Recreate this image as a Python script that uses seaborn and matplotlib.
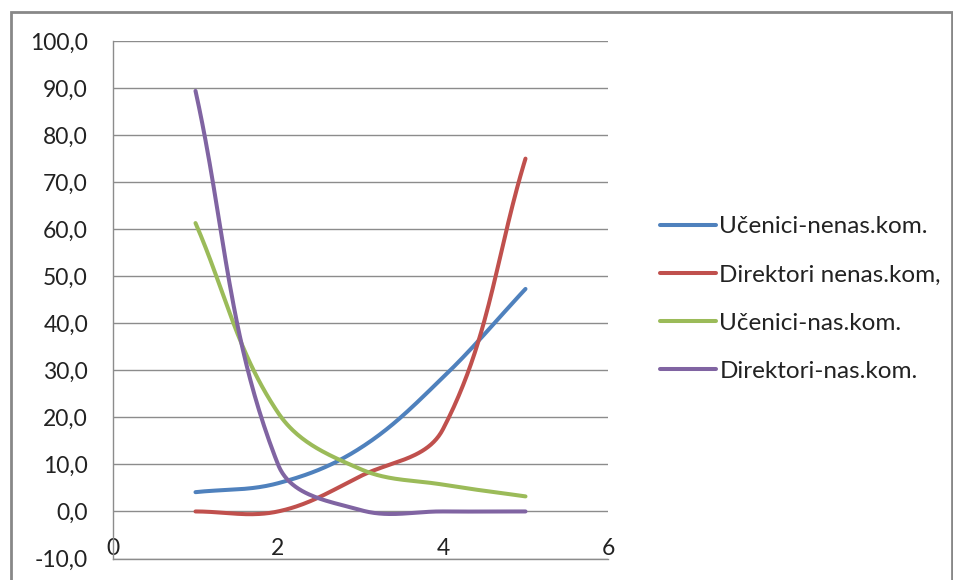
import numpy as np
import pandas as pd
import matplotlib
matplotlib.use("Agg")
import matplotlib.pyplot as plt
import seaborn as sns
from matplotlib.patches import Rectangle
from matplotlib.lines import Line2D

x_vals = [1, 2, 3, 4, 5]
ucenici_nenas = [4.1, 6.0, 13.5, 28.5, 47.3]
direktori_nenas = [0.0, 0.0, 7.5, 17.5, 75.0]
ucenici_nas = [61.3, 21.0, 9.0, 5.7, 3.2]
direktori_nas = [89.4, 10.0, 0.3, 0.0, 0.0]
series_names = ["Učenici-nenas.kom.", "Direktori nenas.kom,", "Učenici-nas.kom.", "Direktori-nas.kom."]
colors = ["#4F81BD", "#C0504D", "#9BBB59", "#8064A2"]
y_ticks = [-10, 0, 10, 20, 30, 40, 50, 60, 70, 80, 90, 100]
x_ticks = [0, 2, 4, 6]

XLIM = (0, 6)
YLIM = (-10, 100)
AX_W_PX = 608 - 113
AX_H_PX = 558.5 - 41


def smooth(xs, ys, n=50, k=0.36):
    # Excel-like smoothing: Bezier segments with tangents scaled by screen-space segment lengths
    sx = AX_W_PX / (XLIM[1] - XLIM[0])
    sy = AX_H_PX / (YLIM[1] - YLIM[0])
    P = np.column_stack([np.asarray(xs, float) * sx, np.asarray(ys, float) * sy])
    m = len(P)
    dirs = []
    for i in range(m):
        a = P[max(i - 1, 0)]
        b = P[min(i + 1, m - 1)]
        d = b - a
        dirs.append(d / np.linalg.norm(d))
    t = np.linspace(0, 1, n)
    out = []
    for i in range(m - 1):
        p0, p3 = P[i], P[i + 1]
        L = np.linalg.norm(p3 - p0)
        p1 = p0 + dirs[i] * L * k
        p2 = p3 - dirs[i + 1] * L * k
        b = ((1 - t) ** 3)[:, None] * p0 + (3 * (1 - t) ** 2 * t)[:, None] * p1 \
            + (3 * (1 - t) * t ** 2)[:, None] * p2 + (t ** 3)[:, None] * p3
        if i > 0:
            b = b[1:]
        out.append(b)
    out = np.vstack(out)
    return out[:, 0] / sx, out[:, 1] / sy


sns.set_theme(style="white")
plt.rcParams["font.family"] = ["Lato", "DejaVu Sans"]

fig = plt.figure(figsize=(9.54, 5.8), dpi=100)
ax = fig.add_axes([113 / 954, 1 - 558.5 / 580, AX_W_PX / 954, AX_H_PX / 580])

rows = []
for name, ys in zip(series_names, [ucenici_nenas, direktori_nenas, ucenici_nas, direktori_nas]):
    sx, sy = smooth(x_vals, ys)
    for a, b in zip(sx, sy):
        rows.append({"x": a, "y": b, "series": name})
df = pd.DataFrame(rows)

sns.lineplot(data=df, x="x", y="y", hue="series", hue_order=series_names, palette=colors,
             sort=False, estimator=None, linewidth=2.9, ax=ax, legend=False)

ax.set_xlim(*XLIM)
ax.set_ylim(*YLIM)
ax.set_yticks(y_ticks)
ax.set_yticklabels([f"{v:.1f}".replace(".", ",") for v in y_ticks])
ax.set_xticks(x_ticks)
ax.set_xticklabels([str(v) for v in x_ticks])
ax.set_xlabel("")
ax.set_ylabel("")
ax.grid(axis="y", color="#8c8c8c", linewidth=1.0)
ax.grid(axis="x", visible=False)
ax.set_axisbelow(True)
for s in ["top", "right"]:
    ax.spines[s].set_visible(False)
for s in ["left", "bottom"]:
    ax.spines[s].set_color("#8c8c8c")
    ax.spines[s].set_linewidth(1.0)
ax.tick_params(axis="y", length=0, pad=18, labelsize=16.5, colors="#222222")
ax.tick_params(axis="x", length=0, pad=-15, labelsize=16.5, colors="#222222")

handles = [Line2D([0], [0], color=c, lw=2.9) for c in colors]
leg = fig.legend(handles, series_names, loc="center left",
                 bbox_to_anchor=(638 / 954, 1 - 299 / 580), frameon=False,
                 fontsize=17.5, handlelength=2.3, handletextpad=0.15, labelspacing=1.12)
for t in leg.get_texts():
    t.set_color("#222222")

fig.patches.append(Rectangle((11 / 954, -0.02), (952 - 11) / 954, 1 - 12 / 580 + 0.02,
                             transform=fig.transFigure, fill=False, edgecolor="#888888",
                             linewidth=2.0))

fig.savefig("out.png", dpi=100)
